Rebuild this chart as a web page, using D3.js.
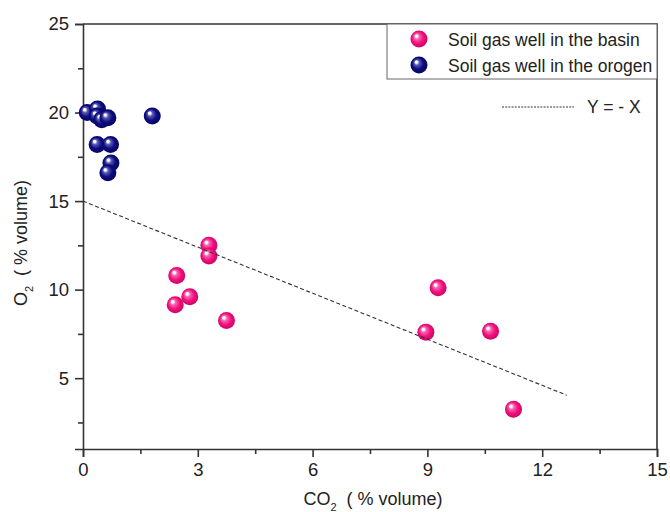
<!DOCTYPE html>
<html lang="en">
<head>
  <meta charset="UTF-8">
  <title>O2 vs CO2 soil gas</title>
  <style>
    html, body {
      margin: 0;
      padding: 0;
      background: #fff;
      font-family: 'Liberation Sans', Arial, sans-serif;
    }
    svg { display: block; }
    .tick text { font-size: 18.5px; fill: #222; }
    .txt { white-space: pre; fill: #222; }
  </style>
</head>
<body>
<svg width="670" height="512"></svg>
<script src="https://d3js.org/d3.v7.min.js"></script>
<script>
// data
const basinX = [3.29, 3.29, 2.45, 2.79, 2.41, 3.75, 9.28, 8.96, 10.65, 11.25];
const basinY = [12.5, 11.9, 10.8, 9.6, 9.15, 8.25, 10.1, 7.6, 7.65, 3.25];
const orogenX = [0.11, 0.38, 0.37, 0.49, 0.65, 1.81, 0.37, 0.72, 0.73, 0.65];
const orogenY = [20.0, 20.2, 19.8, 19.6, 19.7, 19.8, 18.2, 18.2, 17.15, 16.6];
const lineX = [0, 12.64];
const lineY = [15, 4.04];
const xTicks = [0, 3, 6, 9, 12, 15];
const xMinor = [1.5, 4.5, 7.5, 10.5, 13.5];
const yTicks = [5, 10, 15, 20, 25];
const yMinor = [2.5, 7.5, 12.5, 17.5, 22.5];
const seriesNames = ["Soil gas well in the basin", "Soil gas well in the orogen"];

const svg = d3.select("svg");
const m = { left: 83, top: 24, right: 13, bottom: 63 };
const W = 670, H = 512;
const x = d3.scaleLinear().domain([0, 15]).range([m.left, W - m.right]);
const y = d3.scaleLinear().domain([1, 25]).range([H - m.bottom, m.top]);

// sphere gradients
const defs = svg.append("defs");
function sphere(id, light, base, dark) {
  const g = defs.append("radialGradient").attr("id", id)
    .attr("cx", "50%").attr("cy", "50%").attr("r", "55%")
    .attr("fx", "32%").attr("fy", "30%");
  g.append("stop").attr("offset", "0%").attr("stop-color", "#fff");
  g.append("stop").attr("offset", "12%").attr("stop-color", "#fff").attr("stop-opacity", 0.95);
  g.append("stop").attr("offset", "28%").attr("stop-color", light);
  g.append("stop").attr("offset", "60%").attr("stop-color", base);
  g.append("stop").attr("offset", "100%").attr("stop-color", dark);
}
sphere("gPink", "#f868b0", "#f2127f", "#c8005f");
sphere("gBlue", "#5a5ab4", "#0c0c80", "#04045c");

// axes
const axisColor = "#333";
svg.append("g").attr("transform", `translate(0,${H - m.bottom})`)
  .call(d3.axisBottom(x).tickValues(xTicks).tickSize(8).tickPadding(6).tickFormat(d3.format("d")));
svg.append("g").attr("transform", `translate(0,${H - m.bottom})`)
  .call(d3.axisBottom(x).tickValues(xMinor).tickSize(5).tickFormat(""))
  .select(".domain").remove();
svg.append("g").attr("transform", `translate(${m.left},0)`)
  .call(d3.axisLeft(y).tickValues(yTicks).tickSize(8).tickPadding(6).tickFormat(d3.format("d")));
svg.append("g").attr("transform", `translate(${m.left},0)`)
  .call(d3.axisLeft(y).tickValues(yMinor).tickSize(5).tickFormat(""))
  .select(".domain").remove();
svg.selectAll(".domain, .tick line").attr("stroke", axisColor).attr("stroke-width", 1.6);
svg.selectAll(".tick text").attr("font-family", "'Liberation Sans', Arial, sans-serif");

// top and right frame
svg.append("path")
  .attr("d", `M${x(0)},${y(25)}H${x(15)}V${y(1)}`)
  .attr("fill", "none").attr("stroke", axisColor).attr("stroke-width", 1.6);

// points
const r = 8.5;
const orogen = orogenX.map((v, i) => ({ x: v, y: orogenY[i] }));
const basin = basinX.map((v, i) => ({ x: v, y: basinY[i] }));
svg.append("g").selectAll("circle").data(orogen).enter().append("circle")
  .attr("cx", d => x(d.x)).attr("cy", d => y(d.y)).attr("r", r)
  .attr("fill", "url(#gBlue)");
svg.append("g").selectAll("circle").data(basin).enter().append("circle")
  .attr("cx", d => x(d.x)).attr("cy", d => y(d.y)).attr("r", r)
  .attr("fill", "url(#gPink)");

// dashed reference line
svg.append("path")
  .datum(lineX.map((v, i) => [v, lineY[i]]))
  .attr("d", d3.line().x(d => x(d[0])).y(d => y(d[1])))
  .attr("fill", "none").attr("stroke", "#333").attr("stroke-width", 1.1)
  .attr("stroke-dasharray", "4,2.5");

// legend
const lg = svg.append("g");
lg.append("rect").attr("x", 387).attr("y", y(25)).attr("width", x(15) - 387).attr("height", 55)
  .attr("fill", "#fff").attr("stroke", "#666").attr("stroke-width", 1);
const fills = ["url(#gPink)", "url(#gBlue)"];
seriesNames.forEach((s, i) => {
  lg.append("circle").attr("cx", 419).attr("cy", 39 + i * 26).attr("r", r).attr("fill", fills[i]);
  lg.append("text").attr("class", "txt").attr("x", 448).attr("y", 46 + i * 26)
    .attr("font-size", 17.5).text(s);
});
lg.append("line").attr("x1", 502).attr("x2", 574).attr("y1", 107).attr("y2", 107)
  .attr("stroke", "#333").attr("stroke-width", 1).attr("stroke-dasharray", "2,1.2");
lg.append("text").attr("class", "txt").attr("x", 587).attr("y", 113)
  .attr("font-size", 17.5).text("Y = - X");

// axis titles
const xt = svg.append("text").attr("class", "txt").attr("x", 373).attr("y", 505)
  .attr("text-anchor", "middle").attr("font-size", 18);
xt.append("tspan").text("CO");
xt.append("tspan").attr("font-size", 11).attr("dy", 6).text("2");
xt.append("tspan").attr("dy", -6).text("  ( % volume)");

const yt = svg.append("text").attr("class", "txt")
  .attr("transform", "translate(27,243) rotate(-90)")
  .attr("text-anchor", "middle").attr("font-size", 18);
yt.append("tspan").text("O");
yt.append("tspan").attr("font-size", 11).attr("dy", 6).text("2");
yt.append("tspan").attr("dy", -6).text("  ( % volume)");
</script>
</body>
</html>
